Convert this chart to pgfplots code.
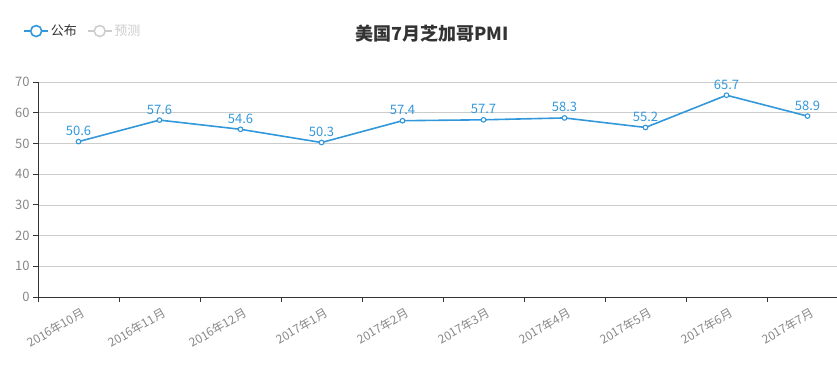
\documentclass[border=0pt]{standalone}
\usepackage{pgfplots}
\pgfplotsset{compat=1.18}
\usepackage{fontspec}
\setmainfont{Noto Sans CJK SC}
\definecolor{ser}{HTML}{3398DB}
\definecolor{axc}{HTML}{333333}
\definecolor{gridc}{HTML}{CCCCCC}
\definecolor{lab}{HTML}{888888}
\definecolor{off}{HTML}{CCCCCC}
\begin{document}
\begin{tikzpicture}[x=1pt,y=1pt]
\useasboundingbox (0,0) rectangle (837,368);
\node[font=\bfseries\fontsize{18}{20}\selectfont, text=axc] at (432,334) {美国7月芝加哥PMI};
\begin{axis}[
  at={(38pt,71pt)}, anchor=south west,
  scale only axis, width=810pt, height=215pt,
  xmin=-0.5, xmax=9.5, ymin=0, ymax=70,
  xtick={0,...,9},
  xticklabels={2016年10月,2016年11月,2016年12月,2017年1月,2017年2月,2017年3月,2017年4月,2017年5月,2017年6月,2017年7月},
  minor xtick={-0.5,0.5,1.5,2.5,3.5,4.5,5.5,6.5,7.5,8.5,9.5},
  major x tick style={draw=none},
  minor x tick style={draw=axc, line width=0.8pt},
  minor tick length=5pt,
  xticklabel style={rotate=30, anchor=north east, font=\fontsize{12}{14}\selectfont, text=lab, yshift=-2pt, xshift=3pt},
  ytick={0,10,...,70},
  yticklabel style={font=\fontsize{13}{15}\selectfont, text=lab},
  y tick style={draw=axc, line width=0.8pt},
  tick align=outside, major tick length=5pt,
  ytick pos=left,
  axis x line*=bottom, axis y line*=left,
  axis line style={draw=axc, line width=0.8pt, -},
  ymajorgrids, grid style={draw=gridc, line width=0.6pt},
  /pgf/number format/assume math mode=true,
  clip=false,
  legend style={at={(-0.022,1.237)}, anchor=west, draw=none, fill=none,
    legend columns=-1, font=\fontsize{13}{15}\selectfont,
    /tikz/every even column/.append style={column sep=8pt}},
  legend image code/.code={\draw[#1, mark=none] (0pt,0pt) -- (24pt,0pt); \draw[#1, fill=white, solid] (12pt,0pt) circle (5.5pt);},
  nodes near coords, nodes near coords style={font=\fontsize{13}{15}\selectfont, text=ser, anchor=south, yshift=2pt},
]
\addplot[ser, line width=1.6pt, mark=*, mark size=2.3pt, mark options={fill=white, line width=1.1pt}] coordinates {
(0,50.6) (1,57.6) (2,54.6) (3,50.3) (4,57.4) (5,57.7) (6,58.3) (7,55.2) (8,65.7) (9,58.9)};
\addlegendentry{\textcolor{axc}{公布}}
\addlegendimage{off, line width=1.5pt}
\addlegendentry{\textcolor{off}{预测}}
\end{axis}
\end{tikzpicture}
\end{document}
